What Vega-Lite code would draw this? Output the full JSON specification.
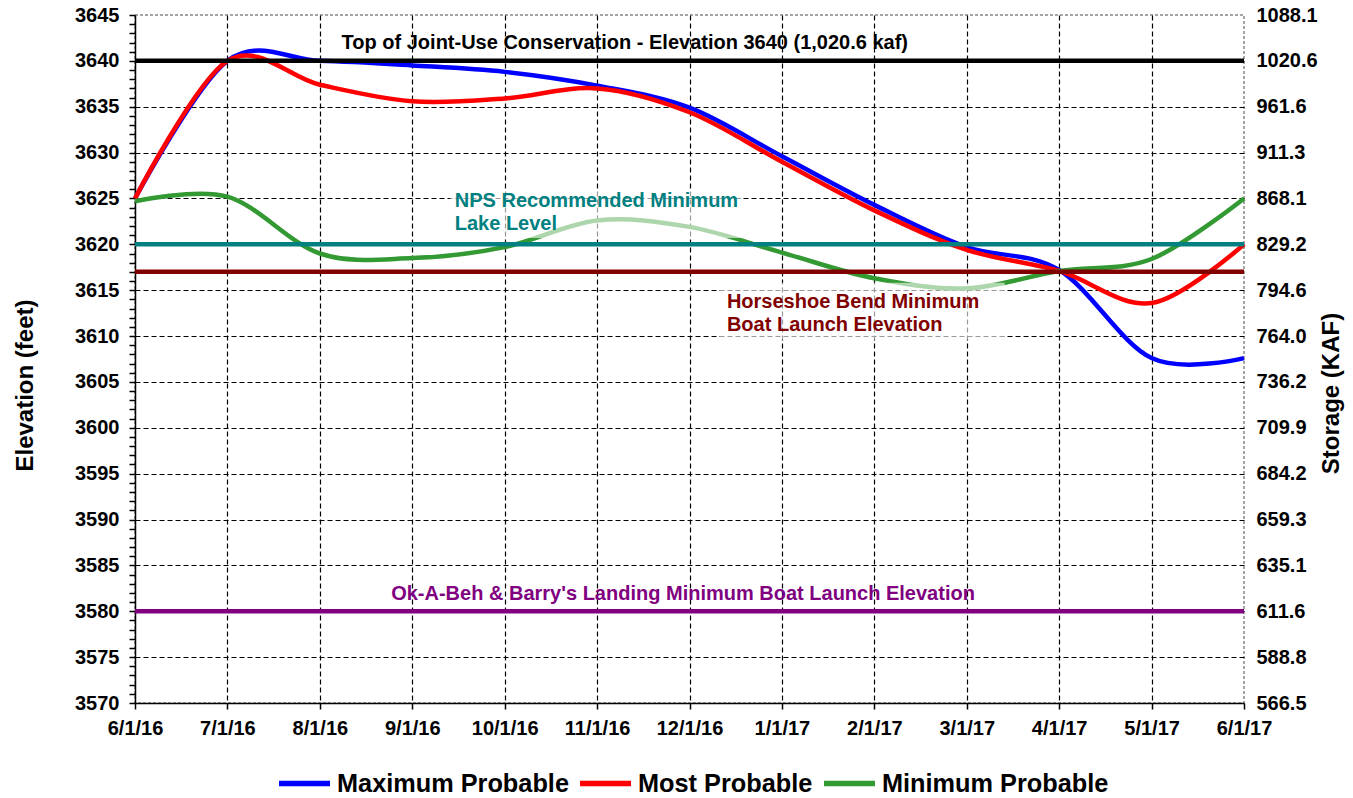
{
  "$schema": "https://vega.github.io/schema/vega-lite/v6.json",
  "width": 1109,
  "height": 688,
  "autosize": {"type": "none"},
  "padding": {"left": 135, "top": 15, "right": 109, "bottom": 95},
  "background": "white",
  "config": {
    "font": "Liberation Sans",
    "view": {"stroke": "#888888", "strokeDash": [3, 2], "strokeWidth": 1.5},
    "axis": {
      "labelFont": "Liberation Sans",
      "labelFontWeight": "bold",
      "labelFontSize": 20,
      "labelColor": "black",
      "titleFont": "Liberation Sans",
      "titleFontWeight": "bold",
      "titleFontSize": 24,
      "titleColor": "black",
      "domainColor": "black",
      "domainWidth": 1.5,
      "tickColor": "black",
      "tickWidth": 1.5,
      "gridColor": "black",
      "gridDash": [5, 3],
      "gridWidth": 1.2
    }
  },
  "datasets": {
    "series": [
      {"month": 0, "series": "Maximum Probable", "elev": 3625.0},
      {"month": 1, "series": "Maximum Probable", "elev": 3640.0},
      {"month": 2, "series": "Maximum Probable", "elev": 3640.0},
      {"month": 3, "series": "Maximum Probable", "elev": 3639.5},
      {"month": 4, "series": "Maximum Probable", "elev": 3638.8},
      {"month": 5, "series": "Maximum Probable", "elev": 3637.3},
      {"month": 6, "series": "Maximum Probable", "elev": 3634.9},
      {"month": 7, "series": "Maximum Probable", "elev": 3629.6},
      {"month": 8, "series": "Maximum Probable", "elev": 3624.3},
      {"month": 9, "series": "Maximum Probable", "elev": 3619.7},
      {"month": 10, "series": "Maximum Probable", "elev": 3617.2},
      {"month": 11, "series": "Maximum Probable", "elev": 3607.6},
      {"month": 12, "series": "Maximum Probable", "elev": 3607.6},
      {"month": 0, "series": "Most Probable", "elev": 3625.0},
      {"month": 1, "series": "Most Probable", "elev": 3640.0},
      {"month": 2, "series": "Most Probable", "elev": 3637.4},
      {"month": 3, "series": "Most Probable", "elev": 3635.6},
      {"month": 4, "series": "Most Probable", "elev": 3635.9},
      {"month": 5, "series": "Most Probable", "elev": 3637.0},
      {"month": 6, "series": "Most Probable", "elev": 3634.4},
      {"month": 7, "series": "Most Probable", "elev": 3629.0},
      {"month": 8, "series": "Most Probable", "elev": 3623.7},
      {"month": 9, "series": "Most Probable", "elev": 3619.4},
      {"month": 10, "series": "Most Probable", "elev": 3617.1},
      {"month": 11, "series": "Most Probable", "elev": 3613.6},
      {"month": 12, "series": "Most Probable", "elev": 3620.0},
      {"month": 0, "series": "Minimum Probable", "elev": 3624.7},
      {"month": 1, "series": "Minimum Probable", "elev": 3625.2},
      {"month": 2, "series": "Minimum Probable", "elev": 3619.0},
      {"month": 3, "series": "Minimum Probable", "elev": 3618.5},
      {"month": 4, "series": "Minimum Probable", "elev": 3619.7},
      {"month": 5, "series": "Minimum Probable", "elev": 3622.6},
      {"month": 6, "series": "Minimum Probable", "elev": 3621.9},
      {"month": 7, "series": "Minimum Probable", "elev": 3619.1},
      {"month": 8, "series": "Minimum Probable", "elev": 3616.3},
      {"month": 9, "series": "Minimum Probable", "elev": 3615.2},
      {"month": 10, "series": "Minimum Probable", "elev": 3617.1},
      {"month": 11, "series": "Minimum Probable", "elev": 3618.4},
      {"month": 12, "series": "Minimum Probable", "elev": 3625.0}
    ],
    "refs": [
      {"name": "Top of Joint-Use Conservation", "elev": 3640},
      {"name": "NPS Recommended Minimum", "elev": 3620},
      {"name": "Horseshoe Bend Minimum", "elev": 3617},
      {"name": "Ok-A-Beh & Barry's Landing Minimum", "elev": 3580}
    ],
    "boxes": [
      {"name": "NPS Recommended Minimum", "x1": 3.41, "x2": 6.55, "y1": 3625.9, "y2": 3620.7},
      {"name": "Horseshoe Bend Minimum", "x1": 6.33, "x2": 9.41, "y1": 3615.8, "y2": 3609.6}
    ],
    "centerLabels": [
      {"name": "Top of Joint-Use Conservation", "text": "Top of Joint-Use Conservation - Elevation 3640 (1,020.6 kaf)", "x": 5.30, "y": 3641.95},
      {"name": "Ok-A-Beh & Barry's Landing Minimum", "text": "Ok-A-Beh & Barry's Landing Minimum Boat Launch Elevation", "x": 5.93, "y": 3581.88}
    ],
    "leftLabels": [
      {"name": "NPS Recommended Minimum", "text": "NPS Recommended Minimum", "x": 3.46, "y": 3624.72},
      {"name": "NPS Recommended Minimum", "text": "Lake Level", "x": 3.46, "y": 3622.22},
      {"name": "Horseshoe Bend Minimum", "text": "Horseshoe Bend Minimum", "x": 6.405, "y": 3613.71},
      {"name": "Horseshoe Bend Minimum", "text": "Boat Launch Elevation", "x": 6.405, "y": 3611.2}
    ]
  },
  "layer": [
    {
      "data": {"name": "series"},
      "mark": {"type": "line", "interpolate": "cardinal", "strokeWidth": 4.5},
      "encoding": {
        "x": {
          "field": "month", "type": "quantitative",
          "scale": {"domain": [0, 12], "nice": false, "zero": false},
          "axis": {
            "title": null,
            "values": [0, 1, 2, 3, 4, 5, 6, 7, 8, 9, 10, 11, 12],
            "labelExpr": "['6/1/16','7/1/16','8/1/16','9/1/16','10/1/16','11/1/16','12/1/16','1/1/17','2/1/17','3/1/17','4/1/17','5/1/17','6/1/17'][datum.value]",
            "labelPadding": 9,
            "tickSize": 6,
            "labelOverlap": false,
            "labelFlush": false,
            "grid": true,
            "gridOpacity": {"condition": {"test": "datum.value > 0 && datum.value < 12", "value": 1}, "value": 0}
          }
        },
        "y": {
          "field": "elev", "type": "quantitative",
          "scale": {"domain": [3570, 3645], "nice": false, "zero": false},
          "axis": {
            "orient": "left",
            "title": "Elevation (feet)",
            "titleAngle": 270,
            "titleAlign": "center",
            "titleBaseline": "middle",
            "titleX": -110,
            "titleY": 370,
            "values": [3570,3571,3572,3573,3574,3575,3576,3577,3578,3579,3580,3581,3582,3583,3584,3585,3586,3587,3588,3589,3590,3591,3592,3593,3594,3595,3596,3597,3598,3599,3600,3601,3602,3603,3604,3605,3606,3607,3608,3609,3610,3611,3612,3613,3614,3615,3616,3617,3618,3619,3620,3621,3622,3623,3624,3625,3626,3627,3628,3629,3630,3631,3632,3633,3634,3635,3636,3637,3638,3639,3640,3641,3642,3643,3644,3645],
            "labelExpr": "datum.value % 5 === 0 ? format(datum.value, 'd') : ''",
            "labelOverlap": false,
            "labelFlush": false,
            "labelPadding": 10,
            "tickSize": 6,
            "grid": true,
            "gridOpacity": {"condition": {"test": "datum.value % 5 === 0 && datum.value > 3570 && datum.value < 3645", "value": 1}, "value": 0}
          }
        },
        "color": {
          "field": "series", "type": "nominal",
          "sort": ["Maximum Probable", "Most Probable", "Minimum Probable"],
          "scale": {"domain": ["Maximum Probable", "Most Probable", "Minimum Probable"], "range": ["#0000FF", "#FF0000", "#339933"]},
          "legend": {
            "title": null,
            "orient": "none",
            "legendX": 141,
            "legendY": 740,
            "direction": "horizontal",
            "symbolType": "stroke",
            "symbolSize": 2601,
            "symbolStrokeWidth": 5.5,
            "labelFont": "Liberation Sans",
            "labelFontSize": 25.3,
            "labelFontWeight": "bold",
            "labelColor": "black",
            "labelLimit": 500,
            "labelOffset": 4,
            "columnPadding": 0
          }
        }
      }
    },
    {
      "data": {"name": "boxes"},
      "mark": {"type": "rect", "color": "white", "opacity": 0.6},
      "encoding": {
        "x": {"field": "x1", "type": "quantitative"},
        "x2": {"field": "x2"},
        "y": {"field": "y1", "type": "quantitative", "axis": null},
        "y2": {"field": "y2"}
      }
    },
    {
      "data": {"name": "refs"},
      "mark": {"type": "rule", "strokeWidth": 4.5},
      "encoding": {
        "y": {
          "field": "elev", "type": "quantitative",
          "axis": {
            "orient": "right",
            "title": "Storage (KAF)",
            "titleAngle": 270,
            "titleAlign": "center",
            "titleBaseline": "middle",
            "titleX": 87,
            "titleY": 378,
            "values": [3570,3575,3580,3585,3590,3595,3600,3605,3610,3615,3620,3625,3630,3635,3640,3645],
            "labelExpr": "datum.value==3645?'1088.1':datum.value==3640?'1020.6':datum.value==3635?'961.6':datum.value==3630?'911.3':datum.value==3625?'868.1':datum.value==3620?'829.2':datum.value==3615?'794.6':datum.value==3610?'764.0':datum.value==3605?'736.2':datum.value==3600?'709.9':datum.value==3595?'684.2':datum.value==3590?'659.3':datum.value==3585?'635.1':datum.value==3580?'611.6':datum.value==3575?'588.8':'566.5'",
            "labelAlign": "left",
            "labelOverlap": false,
            "labelFlush": false,
            "labelPadding": 12,
            "ticks": false,
            "tickSize": 0,
            "domain": false,
            "grid": false
          }
        },
        "color": {
          "field": "name", "type": "nominal",
          "scale": {"domain": ["Top of Joint-Use Conservation", "NPS Recommended Minimum", "Horseshoe Bend Minimum", "Ok-A-Beh & Barry's Landing Minimum"], "range": ["#000000", "#008080", "#800000", "#800080"]},
          "legend": null
        }
      }
    },
    {
      "data": {"name": "centerLabels"},
      "mark": {"type": "text", "align": "center", "baseline": "middle", "font": "Liberation Sans", "fontWeight": "bold", "fontSize": 20},
      "encoding": {
        "x": {"field": "x", "type": "quantitative"},
        "y": {"field": "y", "type": "quantitative", "axis": null},
        "text": {"field": "text"},
        "color": {
          "field": "name", "type": "nominal",
          "scale": {"domain": ["Top of Joint-Use Conservation", "Ok-A-Beh & Barry's Landing Minimum"], "range": ["#000000", "#800080"]},
          "legend": null
        }
      }
    },
    {
      "data": {"name": "leftLabels"},
      "mark": {"type": "text", "align": "left", "baseline": "middle", "font": "Liberation Sans", "fontWeight": "bold", "fontSize": 20},
      "encoding": {
        "x": {"field": "x", "type": "quantitative"},
        "y": {"field": "y", "type": "quantitative", "axis": null},
        "text": {"field": "text"},
        "color": {
          "field": "name", "type": "nominal",
          "scale": {"domain": ["NPS Recommended Minimum", "Horseshoe Bend Minimum"], "range": ["#008080", "#800000"]},
          "legend": null
        }
      }
    }
  ],
  "resolve": {"scale": {"color": "independent"}, "axis": {"y": "independent"}}
}
